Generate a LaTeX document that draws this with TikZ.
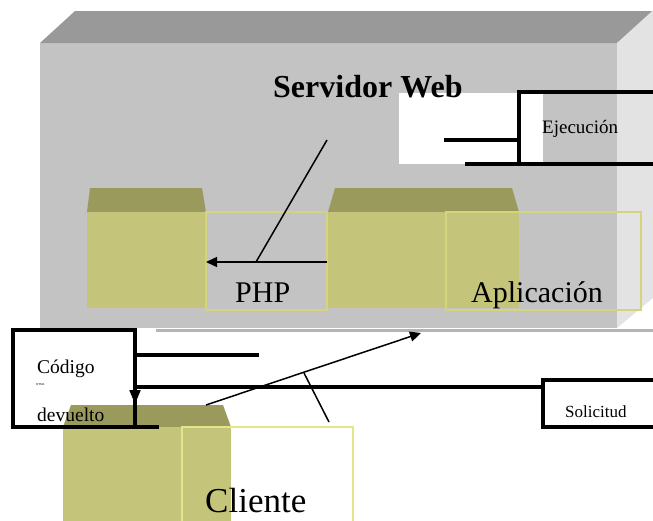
\documentclass[tikz,border=0pt]{standalone}
\usepackage{fontspec}
\setmainfont{Liberation Serif}
\usetikzlibrary{arrows.meta}
\definecolor{srvfront}{HTML}{C3C3C3}
\definecolor{srvtop}{HTML}{999999}
\definecolor{srvside}{HTML}{E3E3E3}
\definecolor{srvedge}{HTML}{B4B4B4}
\definecolor{olivetop}{HTML}{9A9A5C}
\definecolor{olivefront}{HTML}{C4C47A}
\definecolor{oliveedge}{HTML}{D4D47E}
\definecolor{clientedge}{HTML}{E4E48A}
\tikzset{
  frame/.style={draw=oliveedge, line width=2pt, inner sep=0pt, outer sep=0pt, anchor=north west},
  solid box/.style={fill=olivefront, inner sep=0pt, outer sep=0pt, anchor=north west},
  bracket/.style={line width=3.2pt, line cap=rect},
  callout/.style={line width=3.2pt, inner sep=0pt, outer sep=0pt, anchor=north west, draw},
  link/.style={line width=1.5pt},
  tip/.style={-{Triangle[length=11pt,width=10pt]}},
  label/.style={anchor=base west, inner sep=0pt},
}
\begin{document}
\begin{tikzpicture}[x=1pt,y=-1pt]
\useasboundingbox (0,0) rectangle (653,520);
\clip (0,0) rectangle (653,520);
\fill[white] (0,0) rectangle (653,520);

% web server block
\fill[srvfront] (40,43) rectangle (617,328);
\fill[srvtop] (40,43) -- (75,11) -- (660,11) -- (617,43) -- cycle;
\fill[srvside] (617,43) -- (660,4) -- (660,292) -- (617,328) -- cycle;
\draw[srvedge, line width=3pt] (156,330) -- (660,330);

% first component inside the server
\fill[olivetop] (90,188) -- (202,188) -- (206,212) -- (87,212) -- cycle;
\node[solid box, minimum width=119pt, minimum height=96pt] (comp1) at (87,212) {};
\node[frame, minimum width=121pt, minimum height=98pt] (phpbox) at (206,212) {};

% second component inside the server
\fill[olivetop] (335,188) -- (512,188) -- (519,212) -- (328,212) -- cycle;
\node[solid box, minimum width=191pt, minimum height=96pt] (comp2) at (328,212) {};
\node[frame, minimum width=195pt, minimum height=98pt] (appbox) at (446,212) {};

% execution area
\fill[white] (399,93) rectangle (543,164);

% titles and labels
\node[label, font=\fontsize{32}{38}\selectfont\bfseries] (title) at (273,97) {Servidor Web};
\node[label, font=\fontsize{30}{36}\selectfont] (php) at (235,302) {PHP};
\node[label, font=\fontsize{30}{36}\selectfont] (app) at (471,302) {Aplicación};
\node[label, font=\fontsize{19}{23}\selectfont] (exec) at (542,133) {Ejecución};

% execution bracket
\coordinate (ejTop) at (519,92);
\coordinate (ejBot) at (519,164);
\coordinate (ejTopEnd) at (660,92);
\coordinate (ejBotStart) at (467,164);
\coordinate (ejBotEnd) at (660,164);
\coordinate (ejMid) at (519,140);
\coordinate (ejMidStart) at (446,140);
\draw[bracket] (ejTop) -- (ejBot);
\draw[bracket] (ejTop) -- (ejTopEnd);
\draw[bracket] (ejBotStart) -- (ejBotEnd);
\draw[bracket] (ejMidStart) -- (ejMid);

% execution arrow between the components
\coordinate (execStart) at (327,140);
\coordinate (execKnee) at (256,262);
\coordinate (execFrom) at (327,262);
\draw[link] (execStart) -- (execKnee);
\draw[link, tip] (execFrom) -- (phpbox.west |- execFrom);

% client block
\fill[olivetop] (71,405) -- (223,405) -- (231,427) -- (63,427) -- cycle;
\node[solid box, minimum width=168pt, minimum height=100pt] (client) at (63,427) {};
\node[draw=clientedge, line width=2pt, inner sep=0pt, outer sep=0pt, anchor=north west,
      minimum width=171pt, minimum height=110pt] (clientbox) at (182,427) {};
\node[label, font=\fontsize{35}{42}\selectfont] (clientlabel) at (205,512) {Cliente};

% request arrow from client to server
\coordinate (reqStart) at (206,405);
\coordinate (reqEnd) at (421,333);
\draw[link, tip] (reqStart) -- (reqEnd);
\coordinate (reqMark) at (304,373);
\coordinate (reqMarkEnd) at (329,422);
\draw[link] (reqMark) -- (reqMarkEnd);

% returned code callout
\node[callout, minimum width=122pt, minimum height=97pt] (codebox) at (13,330) {};
\node[label, font=\fontsize{19.5}{23}\selectfont] (code) at (37,373) {Código};
\node[label, font=\fontsize{3}{4}\selectfont] (html) at (36,385) {HTML};
\node[label, font=\fontsize{19.5}{23}\selectfont] (returned) at (37,421) {devuelto};
\coordinate (codeUpper) at (257,355);
\draw[bracket] (codebox.east |- codeUpper) -- (codeUpper);
\coordinate (codeLower) at (135,387);
\coordinate (codeFoot) at (157,427);
\draw[bracket] (codebox.south east) -- (codeFoot);

% request callout
\node[callout, minimum width=120pt, minimum height=47pt] (reqbox) at (543,380) {};
\node[label, font=\fontsize{17}{21}\selectfont] (request) at (565,417) {Solicitud};
\draw[bracket] (codeLower) -- (reqbox.west |- codeLower);
\draw[line width=2pt, -{Triangle[length=14pt,width=11pt]}] (codeLower) -- ++(0,17);
\end{tikzpicture}
\end{document}
